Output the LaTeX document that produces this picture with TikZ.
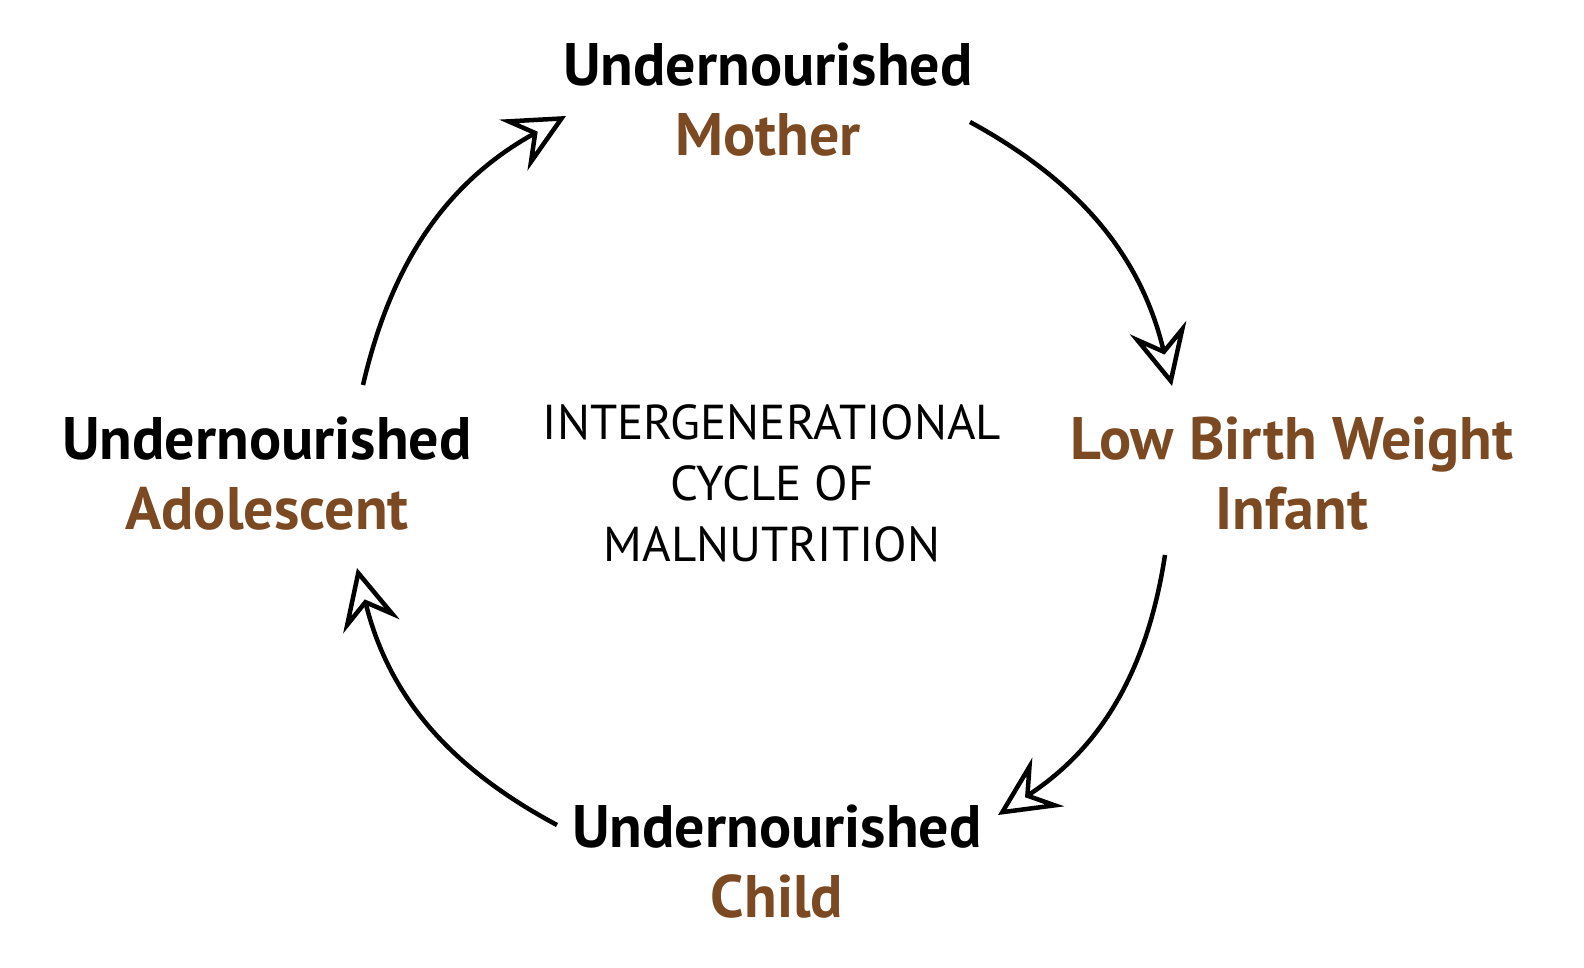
\documentclass[tikz,border=0pt]{standalone}
\usepackage{fontspec}
\setmainfont{PT Sans}
\usetikzlibrary{arrows.meta}
\definecolor{brn}{HTML}{7B4A22}
\begin{document}
\begin{tikzpicture}[x=1pt,y=-1pt,
  lab/.style={font=\fontsize{60}{70}\selectfont\bfseries, align=center, inner sep=0},
  mid/.style={font=\fontsize{49}{61}\selectfont, align=center, inner sep=0},
  cyc/.style={line width=4.5pt, -{Stealth[open, length=60pt, width=58pt, inset=22pt, line width=4.5pt]}}]
\useasboundingbox (0,0) rectangle (1584,968);
\node[lab] (mother) at (768,100) {Undernourished\\\textcolor{brn}{Mother}};
\node[lab,text=brn] (infant) at (1292,474) {Low Birth Weight\\Infant};
\node[lab] (child) at (777,862) {Undernourished\\\textcolor{brn}{Child}};
\node[lab] (adol) at (267,474) {Undernourished\\\textcolor{brn}{Adolescent}};
\node[mid] (center) at (772,483) {INTERGENERATIONAL\\CYCLE OF\\MALNUTRITION};
\coordinate (a1) at (970,122); \coordinate (b1) at (1172,386);
\coordinate (a2) at (1165,555); \coordinate (b2) at (998,815);
\coordinate (a3) at (557,825); \coordinate (b3) at (357,568);
\coordinate (a4) at (363,385); \coordinate (b4) at (566,116);
\draw[cyc] (a1) to[bend left=24] (b1);
\draw[cyc] (a2) to[bend left=24] (b2);
\draw[cyc] (a3) to[bend left=24] (b3);
\draw[cyc] (a4) to[bend left=24] (b4);
\end{tikzpicture}
\end{document}
